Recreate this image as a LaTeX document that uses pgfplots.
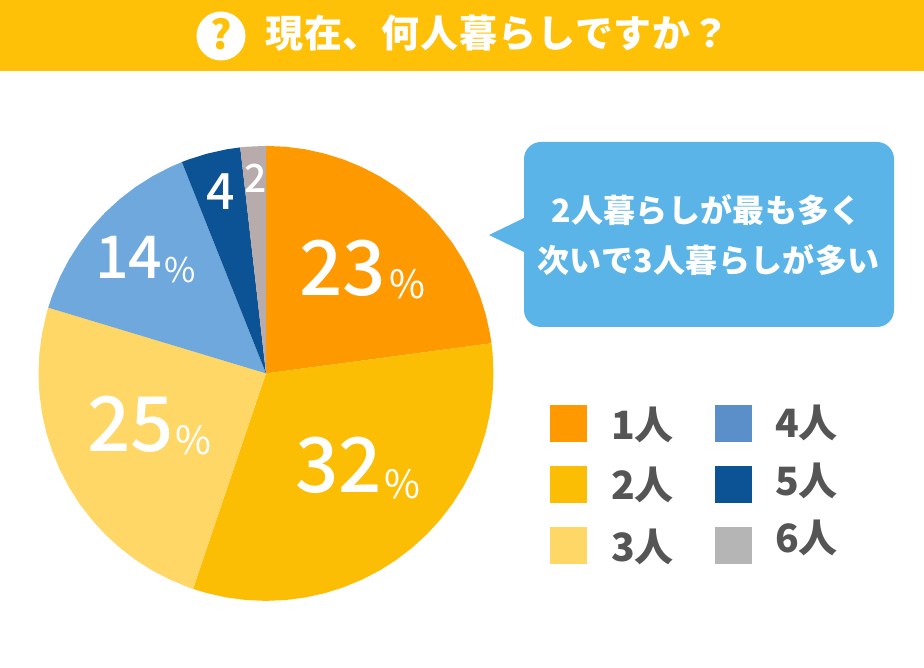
\documentclass[border=0pt]{standalone}
\usepackage{fontspec}
\setmainfont{Noto Sans CJK JP}
\newfontfamily\med{Noto Sans CJK JP Medium}
\usepackage{pgfplots}
\pgfplotsset{compat=1.18}
\usepgfplotslibrary{polar}
\definecolor{headYellow}{HTML}{FFC107}
\definecolor{sliceA}{HTML}{FF9900}
\definecolor{sliceB}{HTML}{FCBE05}
\definecolor{sliceC}{HTML}{FFD766}
\definecolor{sliceD}{HTML}{6FA8DC}
\definecolor{sliceE}{HTML}{0C5395}
\definecolor{sliceF}{HTML}{B7ABAB}
\definecolor{keyD}{HTML}{5B8FC9}
\definecolor{keyF}{HTML}{B5B5B5}
\definecolor{bubble}{HTML}{5BB4E8}
\definecolor{keyInk}{HTML}{555555}
\newcommand{\fs}[1]{\fontsize{#1}{#1}\selectfont}
\tikzset{lbl/.style={inner sep=0pt, anchor=base west},
         lblc/.style={inner sep=0pt, anchor=base}}
\begin{document}
\begin{tikzpicture}
% keeps the page at the full 924x668
\path (0pt,0pt) rectangle (924pt,668pt);
% pie, angles in degrees counter-clockwise, radius in px
\begin{polaraxis}[
  at={(266pt,294.6pt)}, anchor=center,
  width=455pt, height=455pt, scale only axis,
  hide axis, clip=false,
  xmin=0, xmax=360, ymin=0, ymax=227.5,
]
\addplot[fill=sliceA, draw=none] coordinates {
  (0,0) (90,227.5) (85,227.5) (80,227.5) (75,227.5) (70,227.5) (65,227.5) (60,227.5)
  (55,227.5) (50,227.5) (45,227.5) (40,227.5) (35,227.5) (30,227.5) (25,227.5)
  (20,227.5) (15,227.5) (10,227.5) (7.6,227.5)
} --cycle;
\addplot[fill=sliceB, draw=none] coordinates {
  (0,0) (7.6,227.5) (5,227.5) (0,227.5) (-5,227.5) (-10,227.5) (-15,227.5) (-20,227.5)
  (-25,227.5) (-30,227.5) (-35,227.5) (-40,227.5) (-45,227.5) (-50,227.5) (-55,227.5)
  (-60,227.5) (-65,227.5) (-70,227.5) (-75,227.5) (-80,227.5) (-85,227.5) (-90,227.5)
  (-95,227.5) (-100,227.5) (-105,227.5) (-108.7,227.5)
} --cycle;
\addplot[fill=sliceC, draw=none] coordinates {
  (0,0) (251.3,227.5) (250,227.5) (245,227.5) (240,227.5) (235,227.5) (230,227.5)
  (225,227.5) (220,227.5) (215,227.5) (210,227.5) (205,227.5) (200,227.5) (195,227.5)
  (190,227.5) (185,227.5) (180,227.5) (175,227.5) (170,227.5) (165,227.5) (163.2,227.5)
} --cycle;
\addplot[fill=sliceD, draw=none] coordinates {
  (0,0) (163.2,227.5) (160,227.5) (155,227.5) (150,227.5) (145,227.5) (140,227.5)
  (135,227.5) (130,227.5) (125,227.5) (120,227.5) (115,227.5) (111.7,227.5)
} --cycle;
\addplot[fill=sliceE, draw=none] coordinates {
  (0,0) (111.7,227.5) (110,227.5) (105,227.5) (100,227.5) (96.5,227.5)
} --cycle;
\addplot[fill=sliceF, draw=none] coordinates {
  (0,0) (96.5,227.5) (95,227.5) (90,227.5)
} --cycle;
\end{polaraxis}
% everything else, in reference pixels
\begin{axis}[
  at={(0pt,0pt)}, anchor=south west,
  width=924pt, height=668pt, scale only axis,
  hide axis, clip=false,
  xmin=0, xmax=924, ymin=0, ymax=668, y dir=reverse,
]
\addplot[fill=headYellow, draw=none] coordinates {(0,0) (924,0) (924,71) (0,71)} --cycle;
\addplot[fill=bubble, draw=none, rounded corners=17pt] coordinates {(524,142) (894,142) (894,327) (524,327)} --cycle;
\addplot[fill=bubble, draw=none] coordinates {(526,217) (489,235) (526,253)} --cycle;
\addplot[only marks, mark=square*, mark size=18pt, color=sliceA] coordinates {(568.5,423)};
\addplot[only marks, mark=square*, mark size=18pt, color=sliceB] coordinates {(568.5,484)};
\addplot[only marks, mark=square*, mark size=18pt, color=sliceC] coordinates {(568.5,545.5)};
\addplot[only marks, mark=square*, mark size=18pt, color=keyD] coordinates {(733,423)};
\addplot[only marks, mark=square*, mark size=18pt, color=sliceE] coordinates {(733,484)};
\addplot[only marks, mark=square*, mark size=18pt, color=keyF] coordinates {(733,545.5)};

\node[circle, fill=white, inner sep=0pt, minimum size=49pt] at (axis cs:221,36) {};
\node[lblc, text=headYellow] at (axis cs:221,50) {\fs{40}\bfseries ?};
\node[lbl, text=white] at (axis cs:265,48) {\addfontfeature{LetterSpace=2.3}\fs{38}\bfseries 現在、何人暮らしですか？};

\node[lblc, text=white] at (axis cs:706.5,223) {\addfontfeature{LetterSpace=1}\fs{32}\bfseries 2人暮らしが最も多く};
\node[lblc, text=white] at (axis cs:708.5,273) {\addfontfeature{LetterSpace=1}\fs{32}\bfseries 次いで3人暮らしが多い};

\node[lbl, text=white] at (axis cs:299,296) {\med\fs{76}23};
\node[lbl, text=white] at (axis cs:389,299) {\fs{39}\%};
\node[lbl, text=white] at (axis cs:295,493) {\med\fs{76}32};
\node[lbl, text=white] at (axis cs:384,498) {\fs{39}\%};
\node[lbl, text=white] at (axis cs:87,452) {\med\fs{76}25};
\node[lbl, text=white] at (axis cs:175,455) {\fs{39}\%};
\node[lbl, text=white] at (axis cs:95,279) {\med\fs{59}14};
\node[lbl, text=white] at (axis cs:164,283) {\fs{34}\%};
\node[lbl, text=white] at (axis cs:206,210) {\med\fs{50}4};
\node[lbl, text=white] at (axis cs:244,193) {\med\fs{39}2};

\node[lbl, text=keyInk] at (axis cs:611,439) {\fs{39}\bfseries 1人};
\node[lbl, text=keyInk] at (axis cs:611,500) {\fs{39}\bfseries 2人};
\node[lbl, text=keyInk] at (axis cs:611,561) {\fs{39}\bfseries 3人};
\node[lbl, text=keyInk] at (axis cs:775,438) {\fs{39}\bfseries 4人};
\node[lbl, text=keyInk] at (axis cs:775,495) {\fs{39}\bfseries 5人};
\node[lbl, text=keyInk] at (axis cs:775,552) {\fs{39}\bfseries 6人};
\end{axis}
\end{tikzpicture}
\end{document}
